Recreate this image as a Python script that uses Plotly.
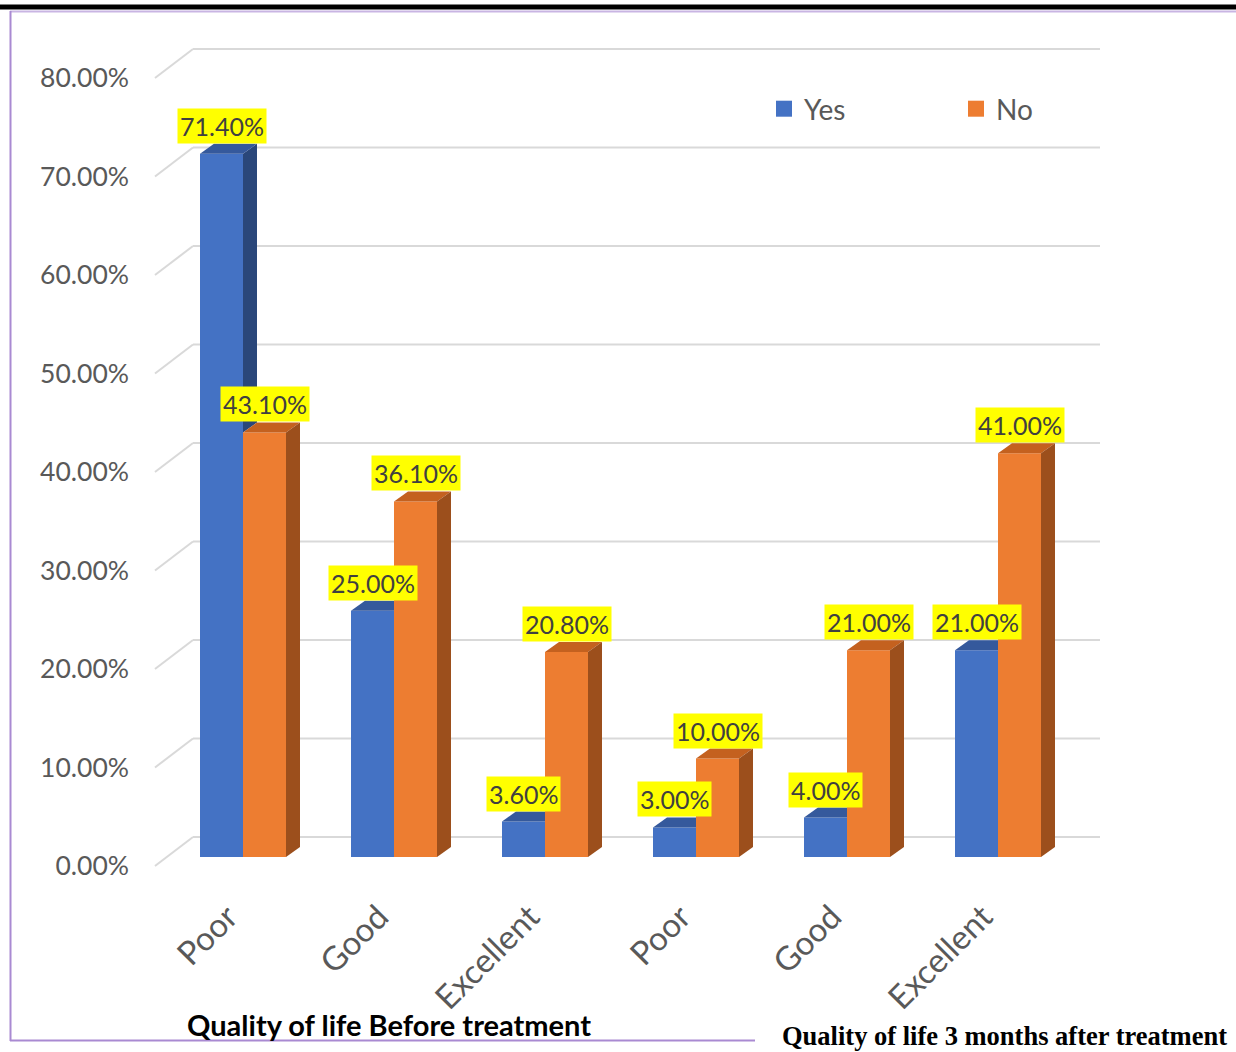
import plotly.graph_objects as go

# ---------------- data ----------------
categories = ["Poor", "Good", "Excellent", "Poor", "Good", "Excellent"]
yes_values = [71.4, 25.0, 3.6, 3.0, 4.0, 21.0]
no_values = [43.1, 36.1, 20.8, 10.0, 21.0, 41.0]
series_names = ["Yes", "No"]
y_ticks = [0, 10, 20, 30, 40, 50, 60, 70, 80]
group_titles = ["Quality of life Before treatment",
                "Quality of life 3 months after treatment"]

# ---------------- geometry (pixels -> data units) ----------------
W, H = 1236, 1052
PX_PER_CAT = 151.0
PX_PER_PCT = 9.85
X0_PX = 243.0      # pixel x of category 0 centre
Y0_PX = 857.0      # pixel y of 0 % on bar fronts
PLOT_L = 130.0
PLOT_B = 880.0

x_lo = -(X0_PX - PLOT_L) / PX_PER_CAT
x_hi = x_lo + (W - PLOT_L) / PX_PER_CAT
y_hi = Y0_PX / PX_PER_PCT
y_lo = y_hi - PLOT_B / PX_PER_PCT

bw = 43.0 / PX_PER_CAT          # bar width
ddx = 14.0 / PX_PER_CAT         # bar depth offset x
ddy = 10.0 / PX_PER_PCT         # bar depth offset y
front_shift = 9.0 / PX_PER_PCT  # front-left wall corner below bar base
back_shift = 20.0 / PX_PER_PCT  # back wall above bar base
wall_front_x = (155.0 - X0_PX) / PX_PER_CAT
wall_back_x = (193.0 - X0_PX) / PX_PER_CAT
wall_right_x = (1100.0 - X0_PX) / PX_PER_CAT

BLUE, BLUE_TOP, BLUE_SIDE = "#4472C4", "#35599C", "#2A477A"
ORANGE, ORANGE_TOP, ORANGE_SIDE = "#ED7D31", "#C4611F", "#9C4F1C"
GRID = "#D9D9D9"
TXT = "#595959"
FONT = "Lato"

idx = list(range(len(categories)))
fig = go.Figure()

# front faces
fig.add_trace(go.Bar(x=idx, y=yes_values, width=bw, offset=-bw, marker=dict(color=BLUE, line=dict(width=0)),
                     showlegend=False, hoverinfo="skip"))
fig.add_trace(go.Bar(x=idx, y=no_values, width=bw, offset=0, marker=dict(color=ORANGE, line=dict(width=0)),
                     showlegend=False, hoverinfo="skip"))


def poly(xs, ys, color):
    fig.add_trace(go.Scatter(x=xs + [xs[0]], y=ys + [ys[0]], mode="lines", fill="toself",
                             fillcolor=color, line=dict(width=0, color=color),
                             showlegend=False, hoverinfo="skip"))


for i, (v1, v2) in enumerate(zip(yes_values, no_values)):
    xl1, xr1 = i - bw, i
    xl2, xr2 = i, i + bw
    # Yes side (only the part visible above the No bar)
    if v1 > v2:
        poly([xr1, xr1, xr1 + ddx, xr1 + ddx], [v2, v1, v1 + ddy, v2 + ddy], BLUE_SIDE)
        poly([xl1, xr1, xr1 + ddx, xl1 + ddx], [v1, v1, v1 + ddy, v1 + ddy], BLUE_TOP)
    else:
        poly([xl1, xr1, xr1, xl1 + ddx], [v1, v1, v1 + ddy, v1 + ddy], BLUE_TOP)
    # No top + side
    poly([xl2, xr2, xr2 + ddx, xl2 + ddx], [v2, v2, v2 + ddy, v2 + ddy], ORANGE_TOP)
    poly([xr2, xr2, xr2 + ddx, xr2 + ddx], [0, v2, v2 + ddy, ddy], ORANGE_SIDE)

# legend entries
for name, col in zip(series_names, [BLUE, ORANGE]):
    fig.add_trace(go.Scatter(x=[None], y=[None], mode="markers", name=name,
                             marker=dict(symbol="square", size=16, color=col)))

# invisible trace for the tick axis
fig.add_trace(go.Scatter(x=[None], y=[None], yaxis="y2", showlegend=False, hoverinfo="skip"))

# gridlines (back wall + left wall)
shapes = []
for v in y_ticks:
    shapes.append(dict(type="line", xref="x", yref="y", layer="below",
                       x0=wall_front_x, y0=v - front_shift, x1=wall_back_x, y1=v + back_shift,
                       line=dict(color=GRID, width=2)))
    shapes.append(dict(type="line", xref="x", yref="y", layer="below",
                       x0=wall_back_x, y0=v + back_shift, x1=wall_right_x, y1=v + back_shift,
                       line=dict(color=GRID, width=2)))

# page decorations (paper coords = whole page, margins are zero)
def px_x(p):
    return p / W


def px_y(p):
    return 1 - p / H


shapes += [
    dict(type="rect", xref="paper", yref="paper", x0=0, x1=1, y0=px_y(9.5), y1=px_y(4.5),
         fillcolor="black", line=dict(width=0)),
    dict(type="line", xref="paper", yref="paper", x0=px_x(10), x1=1, y0=px_y(11.5), y1=px_y(11.5),
         line=dict(color="#C9B5E3", width=2)),
    dict(type="line", xref="paper", yref="paper", x0=px_x(10.5), x1=px_x(10.5), y0=px_y(11), y1=px_y(1041),
         line=dict(color="#A98AD2", width=2)),
    dict(type="line", xref="paper", yref="paper", x0=px_x(10), x1=px_x(755), y0=px_y(1040.5), y1=px_y(1040.5),
         line=dict(color="#A98AD2", width=2)),
]

annotations = []
for i, (v1, v2) in enumerate(zip(yes_values, no_values)):
    for v, xc in [(v1, i - bw / 2), (v2, i + bw / 2)]:
        annotations.append(dict(x=xc, y=v + ddy, xref="x", yref="y", text=f"{v:.2f}%",
                                showarrow=False, yanchor="bottom", xanchor="center",
                                bgcolor="#FFFF00", borderpad=2,
                                font=dict(family=FONT, size=25, color="#404040")))

annotations.append(dict(x=px_x(389), y=px_y(1024), xref="paper", yref="paper",
                        text=f"<b>{group_titles[0]}</b>", showarrow=False,
                        xanchor="center", yanchor="middle",
                        font=dict(family=FONT, size=29, color="black")))
annotations.append(dict(x=px_x(1004), y=px_y(1036), xref="paper", yref="paper",
                        text=f"<b>{group_titles[1]}</b>", showarrow=False,
                        xanchor="center", yanchor="middle",
                        font=dict(family="Liberation Serif", size=26.5, color="black")))

fig.update_layout(
    width=W, height=H,
    margin=dict(l=0, r=0, t=0, b=0),
    paper_bgcolor="white", plot_bgcolor="rgba(0,0,0,0)",
    barmode="overlay",
    showlegend=True,
    legend=dict(orientation="h", x=px_x(764), y=px_y(109), xanchor="left", yanchor="middle",
                font=dict(family=FONT, size=28, color=TXT), entrywidth=147, entrywidthmode="pixels",
                bgcolor="rgba(0,0,0,0)"),
    xaxis=dict(domain=[PLOT_L / W, 1], range=[x_lo, x_hi], tickmode="array", tickvals=idx,
               ticktext=categories, tickangle=-45, showgrid=False, zeroline=False, showline=False,
               ticks="", tickfont=dict(family=FONT, size=33, color=TXT), automargin=False,
               ticklabelshift=-15, ticklabelstandoff=10),
    yaxis=dict(domain=[1 - PLOT_B / H, 1], range=[y_lo, y_hi], showgrid=False, zeroline=False,
               showticklabels=False, showline=False, ticks="", automargin=False),
    yaxis2=dict(overlaying="y", side="left", range=[y_lo + front_shift, y_hi + front_shift],
                tickmode="array", tickvals=y_ticks, ticktext=[f"{t:.2f}%" for t in y_ticks],
                showgrid=False, zeroline=False, showline=False, ticks="",
                tickfont=dict(family=FONT, size=26.5, color=TXT), automargin=False),
    shapes=shapes,
    annotations=annotations,
)

fig.write_html("out.html")
